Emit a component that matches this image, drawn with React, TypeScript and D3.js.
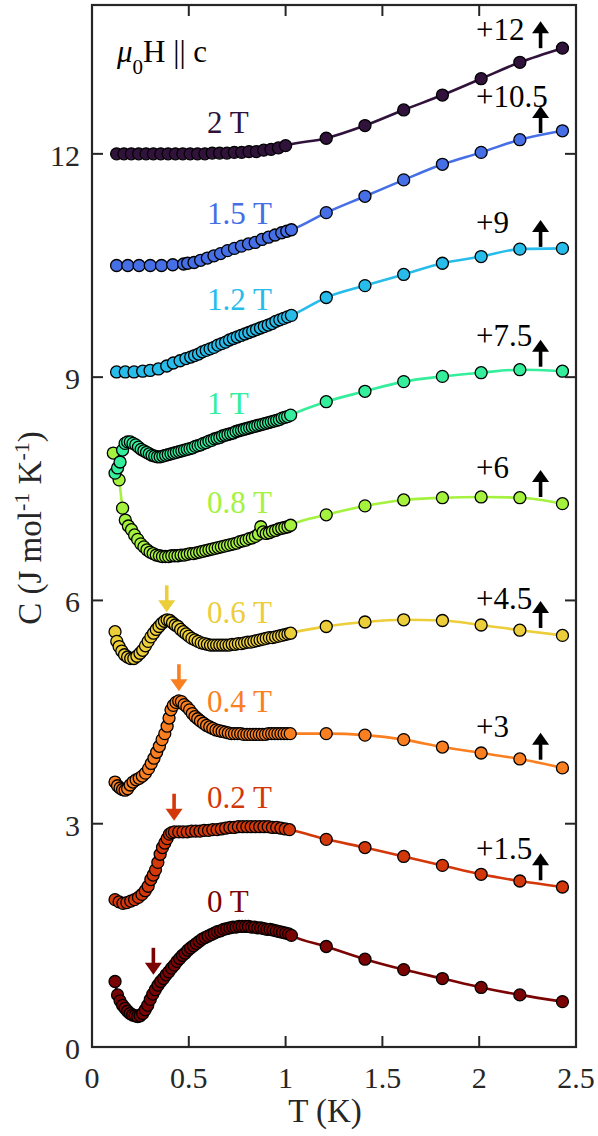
import React from "react";
import * as d3 from "d3";

// field values, vertical shifts and colours (0 T at the bottom)
const fieldLabels = ["0 T", "0.2 T", "0.4 T", "0.6 T", "0.8 T", "1 T", "1.2 T", "1.5 T", "2 T"];
const offsets = [0, 1.5, 3, 4.5, 6, 7.5, 9, 10.5, 12];
const offsetLabels = ["", "+1.5", "+3", "+4.5", "+6", "+7.5", "+9", "+10.5", "+12"];
const colors = ["#7a0403", "#d3380a", "#fa7f20", "#eccd3a", "#a4f23e", "#34ee9c", "#28bceb", "#466fe6", "#30123b"];

const xTicks = [0, 0.5, 1, 1.5, 2, 2.5];
const yTicks = [0, 3, 6, 9, 12];

// dilution fridge points, [T (K), C (J/mol/K)] before shifting
const low00 = [[0.119,0.88],[0.132,0.70],[0.145,0.62],[0.158,0.56],[0.171,0.52],[0.184,0.48],[0.197,0.45],[0.210,0.43],[0.223,0.42],[0.236,0.41],[0.249,0.42],[0.262,0.45],[0.275,0.50],[0.288,0.56],[0.301,0.64],[0.314,0.71],[0.327,0.77],[0.341,0.83],[0.355,0.88],[0.369,0.92],[0.383,0.97],[0.397,1.01],[0.411,1.06],[0.425,1.10],[0.439,1.15],[0.453,1.19],[0.467,1.23],[0.481,1.26],[0.495,1.30],[0.509,1.33],[0.524,1.36],[0.539,1.39],[0.554,1.42],[0.569,1.45],[0.584,1.47],[0.600,1.49],[0.616,1.51],[0.632,1.53],[0.648,1.55],[0.664,1.56],[0.680,1.58],[0.696,1.59],[0.712,1.60],[0.728,1.61],[0.744,1.61],[0.760,1.62],[0.776,1.62],[0.792,1.62],[0.808,1.62],[0.824,1.61],[0.840,1.61],[0.856,1.60],[0.872,1.60],[0.888,1.59],[0.904,1.58],[0.920,1.58],[0.936,1.57],[0.952,1.56],[0.968,1.55],[0.984,1.54],[1.000,1.53],[1.016,1.52],[1.030,1.50]];
const low02 = [[0.119,0.48],[0.140,0.45],[0.160,0.43],[0.180,0.44],[0.200,0.46],[0.220,0.48],[0.240,0.51],[0.258,0.55],[0.275,0.60],[0.290,0.66],[0.304,0.75],[0.316,0.81],[0.328,0.88],[0.340,0.98],[0.352,1.09],[0.364,1.18],[0.376,1.24],[0.388,1.30],[0.400,1.36],[0.412,1.38],[0.426,1.39],[0.448,1.39],[0.470,1.39],[0.492,1.39],[0.514,1.40],[0.536,1.40],[0.558,1.40],[0.580,1.41],[0.602,1.41],[0.624,1.42],[0.646,1.42],[0.668,1.43],[0.690,1.44],[0.712,1.45],[0.734,1.45],[0.756,1.46],[0.778,1.46],[0.800,1.46],[0.822,1.46],[0.844,1.46],[0.866,1.46],[0.888,1.46],[0.910,1.46],[0.932,1.45],[0.954,1.45],[0.976,1.44],[0.998,1.43],[1.020,1.42]];
const low04 = [[0.119,0.56],[0.132,0.51],[0.145,0.48],[0.158,0.46],[0.171,0.45],[0.184,0.47],[0.197,0.52],[0.212,0.56],[0.228,0.59],[0.244,0.61],[0.260,0.64],[0.276,0.68],[0.292,0.74],[0.306,0.81],[0.320,0.88],[0.334,0.96],[0.348,1.04],[0.362,1.13],[0.376,1.21],[0.388,1.31],[0.398,1.42],[0.408,1.53],[0.420,1.59],[0.434,1.63],[0.448,1.65],[0.462,1.64],[0.476,1.60],[0.490,1.57],[0.504,1.53],[0.518,1.48],[0.532,1.44],[0.546,1.41],[0.560,1.38],[0.576,1.35],[0.592,1.32],[0.608,1.30],[0.624,1.28],[0.640,1.26],[0.656,1.25],[0.672,1.24],[0.688,1.23],[0.704,1.22],[0.720,1.21],[0.736,1.21],[0.752,1.21],[0.768,1.21],[0.784,1.20],[0.800,1.20],[0.816,1.20],[0.832,1.20],[0.848,1.20],[0.864,1.20],[0.880,1.20],[0.896,1.20],[0.912,1.21],[0.928,1.21],[0.944,1.21],[0.960,1.21],[0.976,1.21],[0.992,1.21],[1.008,1.21],[1.024,1.21]];
const low06 = [[0.119,1.08],[0.128,0.95],[0.140,0.88],[0.154,0.82],[0.168,0.77],[0.184,0.74],[0.200,0.72],[0.216,0.72],[0.232,0.75],[0.248,0.79],[0.262,0.83],[0.276,0.89],[0.290,0.95],[0.304,1.01],[0.318,1.06],[0.332,1.11],[0.346,1.15],[0.360,1.19],[0.374,1.22],[0.388,1.24],[0.402,1.23],[0.416,1.20],[0.430,1.17],[0.444,1.15],[0.458,1.11],[0.472,1.08],[0.486,1.05],[0.500,1.02],[0.516,0.99],[0.532,0.97],[0.548,0.95],[0.564,0.93],[0.580,0.92],[0.596,0.91],[0.612,0.90],[0.628,0.90],[0.644,0.90],[0.660,0.90],[0.676,0.90],[0.692,0.90],[0.708,0.90],[0.724,0.91],[0.740,0.91],[0.756,0.92],[0.772,0.92],[0.788,0.93],[0.804,0.94],[0.820,0.94],[0.836,0.95],[0.852,0.96],[0.868,0.97],[0.884,0.98],[0.900,0.99],[0.916,1.00],[0.932,1.00],[0.948,1.01],[0.964,1.02],[0.980,1.03],[0.996,1.04],[1.012,1.05],[1.026,1.06]];
const low08 = [[0.110,1.98],[0.140,1.62],[0.158,1.24],[0.172,1.08],[0.188,1.00],[0.204,0.95],[0.220,0.88],[0.236,0.82],[0.252,0.76],[0.268,0.72],[0.284,0.68],[0.300,0.65],[0.316,0.63],[0.332,0.61],[0.348,0.60],[0.364,0.59],[0.380,0.59],[0.396,0.59],[0.412,0.60],[0.428,0.60],[0.444,0.60],[0.460,0.61],[0.476,0.61],[0.492,0.62],[0.508,0.63],[0.524,0.63],[0.540,0.64],[0.556,0.65],[0.572,0.66],[0.588,0.67],[0.604,0.68],[0.620,0.69],[0.636,0.70],[0.652,0.71],[0.668,0.72],[0.684,0.73],[0.700,0.74],[0.716,0.75],[0.732,0.76],[0.748,0.77],[0.764,0.79],[0.780,0.80],[0.796,0.81],[0.812,0.83],[0.828,0.84],[0.844,0.86],[0.860,0.89],[0.872,0.99],[0.884,0.92],[0.900,0.90],[0.916,0.91],[0.932,0.93],[0.948,0.94],[0.964,0.96],[0.980,0.97],[0.996,0.98],[1.012,0.99],[1.026,1.01]];
const low10 = [[0.119,0.21],[0.132,0.28],[0.145,0.36],[0.158,0.52],[0.171,0.61],[0.184,0.63],[0.198,0.63],[0.212,0.61],[0.226,0.59],[0.240,0.56],[0.254,0.53],[0.268,0.51],[0.282,0.49],[0.296,0.47],[0.310,0.45],[0.324,0.44],[0.338,0.43],[0.352,0.43],[0.366,0.44],[0.380,0.45],[0.394,0.46],[0.408,0.47],[0.422,0.48],[0.436,0.49],[0.450,0.50],[0.464,0.51],[0.478,0.52],[0.492,0.53],[0.506,0.54],[0.520,0.55],[0.534,0.57],[0.548,0.58],[0.562,0.59],[0.576,0.61],[0.590,0.62],[0.604,0.64],[0.618,0.65],[0.632,0.67],[0.646,0.68],[0.660,0.69],[0.674,0.71],[0.688,0.72],[0.702,0.73],[0.716,0.74],[0.730,0.75],[0.744,0.77],[0.758,0.78],[0.772,0.79],[0.786,0.80],[0.800,0.81],[0.814,0.82],[0.828,0.83],[0.842,0.84],[0.856,0.85],[0.870,0.86],[0.884,0.87],[0.898,0.88],[0.912,0.89],[0.926,0.90],[0.940,0.91],[0.954,0.92],[0.968,0.93],[0.982,0.95],[0.996,0.96],[1.010,0.97],[1.026,0.99]];
const low12 = [[0.127,0.07],[0.172,0.07],[0.217,0.07],[0.262,0.08],[0.300,0.09],[0.343,0.11],[0.386,0.15],[0.420,0.19],[0.455,0.22],[0.485,0.25],[0.510,0.27],[0.530,0.29],[0.550,0.31],[0.570,0.34],[0.590,0.36],[0.610,0.38],[0.630,0.40],[0.650,0.43],[0.670,0.45],[0.690,0.47],[0.710,0.50],[0.730,0.52],[0.750,0.54],[0.770,0.56],[0.790,0.58],[0.810,0.60],[0.830,0.62],[0.850,0.64],[0.870,0.66],[0.890,0.68],[0.910,0.70],[0.930,0.72],[0.950,0.75],[0.970,0.77],[0.990,0.79],[1.010,0.81],[1.030,0.83]];
const low15 = [[0.127,0.00],[0.185,0.00],[0.243,0.00],[0.301,0.00],[0.359,0.00],[0.417,0.01],[0.473,0.02],[0.494,0.03],[0.527,0.04],[0.561,0.07],[0.596,0.10],[0.630,0.13],[0.664,0.16],[0.700,0.20],[0.736,0.23],[0.772,0.26],[0.808,0.29],[0.843,0.31],[0.878,0.35],[0.912,0.38],[0.946,0.41],[0.980,0.44],[1.006,0.46],[1.030,0.48]];
const low20 = [[0.127,0],[0.165,0],[0.203,0],[0.241,0],[0.279,0],[0.317,0],[0.355,0],[0.393,0],[0.431,0],[0.469,0],[0.507,0],[0.545,0],[0.583,0],[0.621,0.01],[0.659,0.01],[0.697,0.01],[0.735,0.02],[0.773,0.02],[0.811,0.03],[0.849,0.03],[0.887,0.05],[0.925,0.06],[0.963,0.08],[1.000,0.11]];

// PPMS points, shared temperatures
const highT = [1.21, 1.41, 1.61, 1.81, 2.01, 2.21, 2.43];
const high00 = [1.35, 1.18, 1.04, 0.92, 0.80, 0.70, 0.61];
const high02 = [1.29, 1.18, 1.06, 0.94, 0.82, 0.73, 0.65];
const high04 = [1.21, 1.19, 1.13, 1.03, 0.95, 0.87, 0.75];
const high06 = [1.15, 1.21, 1.24, 1.23, 1.17, 1.10, 1.03];
const high08 = [1.15, 1.27, 1.35, 1.38, 1.39, 1.38, 1.30];
const high10 = [1.17, 1.31, 1.44, 1.51, 1.56, 1.60, 1.58];
const high12 = [1.07, 1.23, 1.38, 1.53, 1.62, 1.72, 1.73];
const high15 = [0.71, 0.93, 1.15, 1.36, 1.52, 1.69, 1.81];
const high20 = [0.21, 0.38, 0.59, 0.79, 1.01, 1.23, 1.42];

const lowData = [low00, low02, low04, low06, low08, low10, low12, low15, low20];
const highData = [high00, high02, high04, high06, high08, high10, high12, high15, high20];

// annotation anchors (data units, already shifted)
const fieldLabelT = 0.594;
const fieldLabelC = [1.81, 3.21, 4.5, 5.7, 7.17, 8.5, 9.9, 11.06, 12.28];
const offsetLabelT = 1.983;
const offsetLabelC = [0, 2.53, 4.17, 5.88, 7.64, 9.42, 10.94, 12.63, 13.53];
const upArrowT = 2.317;
const upArrowC = [0, 2.24, 3.86, 5.63, 7.39, 9.14, 10.75, 12.28, 13.42];
const peakArrowT = [0.317, 0.424, 0.449, 0.386];
const peakArrowC = [0.97, 3.04, 4.78, 5.84];

const W = 598, H = 1136;
const FONT = '"Liberation Serif", "Times New Roman", Times, serif';
const AX = "#262626";

const Arrow = ({ x, y0, y1, color }) => {
  // y0 tail, y1 tip (pixels)
  const dir = Math.sign(y1 - y0);
  const headLen = 12, headW = 8.5;
  const base = y1 - dir * headLen;
  return (
    <g>
      <line x1={x} x2={x} y1={y0} y2={base + dir} stroke={color} strokeWidth={3.6} />
      <path d={`M${x - headW},${base}L${x + headW},${base}L${x},${y1}Z`} fill={color} />
    </g>
  );
};

export default function App() {
  const x = d3.scaleLinear().domain([0, 2.5]).range([92, 576]);
  const y = d3.scaleLinear().domain([0, 14]).range([1047, 5]);
  const [x0, x1] = x.range();
  const [yb, yt] = y.range();
  const tick = 11;

  const line = d3.line<number[]>()
    .x((d) => x(d[0]))
    .y((d) => y(d[1]))
    .curve(d3.curveMonotoneX);

  const series = lowData.map((low, i) => {
    const pts = low.map((d) => [d[0], d[1] + offsets[i]]);
    highT.forEach((t, j) => pts.push([t, highData[i][j] + offsets[i]]));
    return pts;
  });

  const txt = { fontFamily: FONT };

  return (
    <svg width={W} height={H} style={{ position: "absolute", left: 0, top: 0, background: "#fff", fontFamily: FONT }}>
      {/* curves + markers */}
      {series.map((pts, i) => (
        <g key={i}>
          <path d={line(pts)} fill="none" stroke={colors[i]} strokeWidth={2.6} />
          {pts.map((d, j) => (
            <circle key={j} cx={x(d[0])} cy={y(d[1])} r={6} fill={colors[i]} stroke="#000" strokeWidth={1.3} />
          ))}
        </g>
      ))}

      {/* axes box */}
      <rect x={x0} y={yt} width={x1 - x0} height={yb - yt} fill="none" stroke={AX} strokeWidth={2.2} />
      {xTicks.map((t) => (
        <g key={"x" + t}>
          <line x1={x(t)} x2={x(t)} y1={yb} y2={yb - tick} stroke={AX} strokeWidth={2} />
          <line x1={x(t)} x2={x(t)} y1={yt} y2={yt + tick} stroke={AX} strokeWidth={2} />
          <text style={txt} x={x(t)} y={yb + 41} textAnchor="middle" fontSize={30} fill={AX}>{String(t)}</text>
        </g>
      ))}
      {yTicks.map((t) => (
        <g key={"y" + t}>
          <line x1={x0} x2={x0 + tick} y1={y(t)} y2={y(t)} stroke={AX} strokeWidth={2} />
          <line x1={x1} x2={x1 - tick} y1={y(t)} y2={y(t)} stroke={AX} strokeWidth={2} />
          <text style={txt} x={80} y={y(t) + 12} textAnchor="end" fontSize={30} fill={AX}>{String(t)}</text>
        </g>
      ))}

      {/* axis labels */}
      <text style={txt} x={325} y={1122} textAnchor="middle" fontSize={33} fill={AX}>T (K)</text>
      <text style={txt} transform={`translate(41,${(yb + yt) / 2 + 2}) rotate(-90)`} textAnchor="middle" fontSize={33} fill={AX}>
        C (J mol<tspan dy={-12} fontSize={22}>-1</tspan><tspan dy={12}> K</tspan><tspan dy={-12} fontSize={22}>-1</tspan><tspan dy={12}>)</tspan>
      </text>

      {/* field direction */}
      <text style={txt} x={117} y={62} fontSize={31} fill="#000">
        <tspan fontStyle="italic">μ</tspan><tspan dy={12} fontSize={21}>0</tspan><tspan dy={-12}>H || c</tspan>
      </text>

      {/* field labels */}
      {fieldLabels.map((s, i) => (
        <text style={txt} key={s} x={x(fieldLabelT)} y={y(fieldLabelC[i])} fontSize={31} fill={colors[i]}>{s}</text>
      ))}

      {/* offsets */}
      {offsetLabels.map((s, i) =>
        i === 0 ? null : (
          <g key={s}>
            <text style={txt} x={x(offsetLabelT)} y={y(offsetLabelC[i])} fontSize={31} fill="#000">{s}</text>
            <Arrow x={x(upArrowT)} y0={y(upArrowC[i])} y1={y(upArrowC[i]) - 27} color="#000" />
          </g>
        )
      )}

      {/* transition markers */}
      {peakArrowT.map((t, i) => (
        <Arrow key={i} x={x(t)} y0={y(peakArrowC[i]) - 27} y1={y(peakArrowC[i])} color={colors[i]} />
      ))}
    </svg>
  );
}
